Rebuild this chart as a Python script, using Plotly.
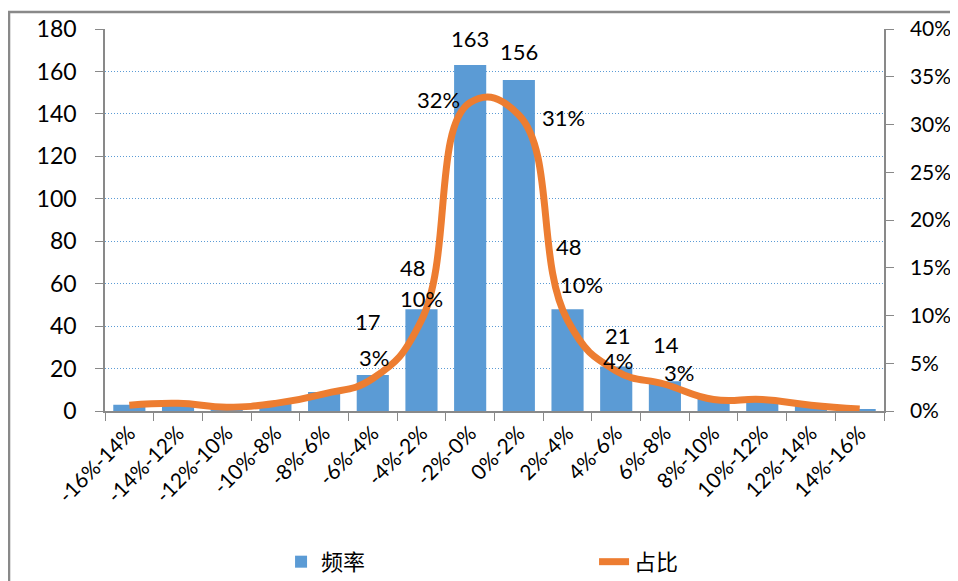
import plotly.graph_objects as go

categories = ["-16%-14%", "-14%-12%", "-12%-10%", "-10%-8%", "-8%-6%", "-6%-4%", "-4%-2%", "-2%-0%",
              "0%-2%", "2%-4%", "4%-6%", "6%-8%", "8%-10%", "10%-12%", "12%-14%", "14%-16%"]
counts = [3, 4, 2, 4, 9, 17, 48, 163, 156, 48, 21, 14, 6, 6, 3, 1]
share = [0.006, 0.008, 0.004, 0.008, 0.018, 0.034, 0.095, 0.323, 0.310, 0.095, 0.042, 0.028, 0.012, 0.012, 0.006, 0.002]

count_labels = {5: "17", 6: "48", 7: "163", 8: "156", 9: "48", 10: "21", 11: "14"}
share_labels = {5: "3%", 6: "10%", 7: "32%", 8: "31%", 9: "10%", 10: "4%", 11: "3%"}
# label offsets (xshift, yshift) in pixels
count_off = {5: (-5, 53), 6: (-8, 42), 7: (0, 27), 8: (0, 28), 9: (1, 63), 10: (2, 31), 11: (1, 37)}
share_off = {5: (1, 21), 6: (0, 22), 7: (-32, 3), 8: (45, -3), 9: (14, 36), 10: (2, 10), 11: (14, 12)}

FONT = "Lato, 'Noto Sans CJK SC', sans-serif"
BLUE = "#5B9BD5"
ORANGE = "#ED7D31"
GRAY = "#898989"

fig = go.Figure()
fig.add_trace(go.Bar(x=categories, y=counts, name="频率", marker=dict(color=BLUE, line=dict(width=0)),
                     yaxis="y"))
fig.add_trace(go.Scatter(x=categories, y=share, name="占比", mode="lines", yaxis="y2",
                         line=dict(color=ORANGE, width=7, shape="spline", smoothing=1.3)))

ann = []
for i, t in count_labels.items():
    dx, dy = count_off[i]
    ann.append(dict(x=categories[i], y=counts[i], xref="x", yref="y", text=t, showarrow=False,
                    xshift=dx, yshift=dy, font=dict(size=22, color="black", family=FONT)))
for i, t in share_labels.items():
    dx, dy = share_off[i]
    ann.append(dict(x=categories[i], y=share[i], xref="x", yref="y2", text=t, showarrow=False,
                    xshift=dx, yshift=dy, font=dict(size=22, color="black", family=FONT)))

fig.update_layout(
    width=958, height=581,
    margin=dict(l=97, r=82, t=21, b=178, autoexpand=False),
    paper_bgcolor="white", plot_bgcolor="white",
    font=dict(family=FONT, size=21, color="black"),
    bargap=0.34,
    showlegend=True,
    legend=dict(orientation="h", x=0.226, xanchor="left", y=-0.34, yanchor="top",
                font=dict(size=22, family=FONT), entrywidth=268, entrywidthmode="pixels",
                bgcolor="rgba(0,0,0,0)"),
    xaxis=dict(type="category", tickangle=-45, ticks="outside", ticklen=8, tickcolor=GRAY,
               tickson="boundaries", showline=True, linecolor=GRAY, linewidth=1.5, automargin=False,
               tickfont=dict(size=21, family=FONT), showgrid=False, range=[-0.5, 15.5]),
    yaxis=dict(range=[0, 180], dtick=20, ticks="outside", ticklen=8, tickcolor=GRAY, automargin=False,
               showline=True, linecolor=GRAY, linewidth=1.5, showgrid=True, ticklabelstandoff=14,
               gridcolor=BLUE, griddash="1px,2px", gridwidth=1, zeroline=False,
               tickfont=dict(size=23, family=FONT)),
    yaxis2=dict(range=[0, 0.4], dtick=0.05, tickformat=".0%", overlaying="y", side="right",
                ticks="outside", ticklen=8, tickcolor=GRAY, showline=True, linecolor=GRAY, automargin=False,
                linewidth=1.5, showgrid=False, zeroline=False, ticklabelstandoff=12,
                tickfont=dict(size=21, family=FONT)),
    annotations=ann,
    shapes=[dict(type="rect", xref="paper", yref="paper", x0=-0.1232, x1=1.2, y0=-0.6, y1=1.0445,
                 line=dict(color=GRAY, width=2.5), layer="below")],
)

fig.write_html("out.html")
